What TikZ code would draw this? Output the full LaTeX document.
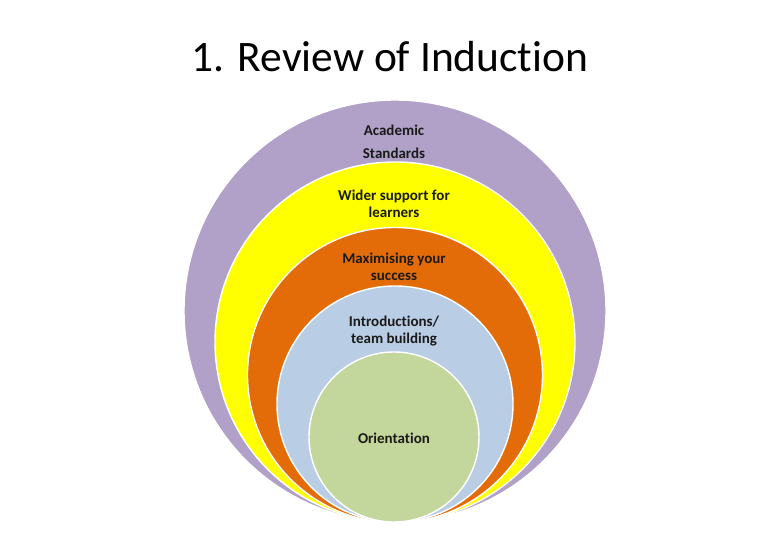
\documentclass[tikz,border=0pt]{standalone}
\usepackage{fontspec}
\setmainfont{Carlito}[Ligatures={NoCommon}]
\definecolor{cpurple}{HTML}{B1A0C7}
\definecolor{cyellow}{HTML}{FFFF00}
\definecolor{corange}{HTML}{E36C09}
\definecolor{cblue}{HTML}{B9CDE5}
\definecolor{cgreen}{HTML}{C3D69B}
\definecolor{ctext}{HTML}{1A1A1A}
\begin{document}
\begin{tikzpicture}[x=1pt,y=-1pt,
  ring/.style={circle,draw=white,line width=1.4pt,inner sep=0pt},
  lbl/.style={font=\bfseries\fontsize{15}{16.5}\selectfont,text=ctext,align=center,inner sep=0pt}]
\useasboundingbox (0,0) rectangle (780,540);
\node[ring,fill=cpurple,minimum size=422pt] (purple) at (395,311) {};
\node[ring,fill=cyellow,minimum size=360pt] (yellow) at (395,342) {};
\node[ring,fill=corange,minimum size=295pt] (orange) at (395,375) {};
\node[ring,fill=cblue,minimum size=236pt] (blue) at (395,404) {};
\node[ring,fill=cgreen,minimum size=170pt] (green) at (394,437) {};
\node[lbl,font=\fontsize{43.5}{50}\selectfont,text=black] (title) at (390,57) {1. Review of Induction};
\node[lbl] (t1a) at (394,130) {Academic};
\node[lbl] (t1b) at (394,153) {Standards};
\node[lbl] (t2) at (394,204) {Wider support for\\learners};
\node[lbl] (t3) at (394,267) {Maximising your\\success};
\node[lbl] (t4) at (394,331) {Introductions/\\team building};
\node[lbl] (t5) at (394,438) {Orientation};
\end{tikzpicture}
\end{document}
